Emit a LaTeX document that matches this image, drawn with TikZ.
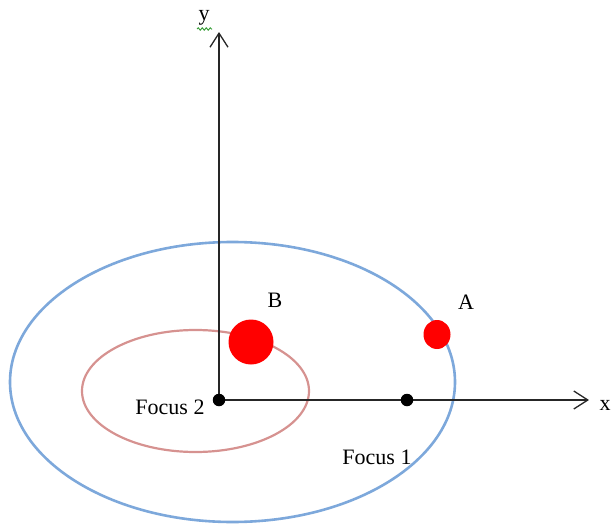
\documentclass[tikz,border=0pt]{standalone}
\usepackage{fontspec}
\setmainfont{Liberation Serif}
\usetikzlibrary{arrows.meta,decorations.pathmorphing,shapes.geometric}
\definecolor{orbitblue}{RGB}{125,168,219}
\definecolor{orbitpink}{RGB}{214,146,144}
\definecolor{squig}{RGB}{60,160,60}
\tikzset{
  axis/.style={line width=1.3pt, black!85, -{Straight Barb[length=14pt,width=18pt,line width=1.3pt]}},
  focusdot/.style={circle, fill=black, inner sep=0pt, minimum size=12.5pt},
  planet/.style={fill=red, inner sep=0pt},
  lbl/.style={font=\fontsize{22}{25}\selectfont, text=black, inner sep=0pt}
}
\begin{document}
\begin{tikzpicture}[x=1pt,y=-1pt]
\useasboundingbox (0,0) rectangle (614,525);
% orbits
\draw[orbitblue, line width=2.6pt] (232.5,382) ellipse [x radius=222.5pt, y radius=140pt];
\draw[orbitpink, line width=2.2pt] (195.5,391) ellipse [x radius=113.5pt, y radius=61pt];
% axes
\coordinate (O) at (219,400);
\coordinate (ytip) at (219,32);
\coordinate (xtip) at (589,400);
\draw[axis] (O) -- (ytip);
\draw[axis] (O) -- (xtip);
% foci
\node[focusdot] (f2) at (O) {};
\node[focusdot] (f1) at (407,400) {};
% planets
\node[planet, circle, minimum size=45pt] (B) at (251,342) {};
\node[planet, ellipse, minimum width=27pt, minimum height=29pt] (A) at (437,334.5) {};
% labels
\node[lbl] (Blbl) at (275,300) {B};
\node[lbl] (Albl) at (466,302) {A};
\node[lbl] (f2lbl) at (170,407) {Focus 2};
\node[lbl] (f1lbl) at (377,457) {Focus 1};
\node[lbl] (xlbl) at (605,405) {x};
\node[lbl] (ylbl) at (204,18) {y};
\draw[squig, line width=1pt, decorate, decoration={snake, amplitude=1.2pt, segment length=4pt}] (197,29) -- (212,29);
\end{tikzpicture}
\end{document}
